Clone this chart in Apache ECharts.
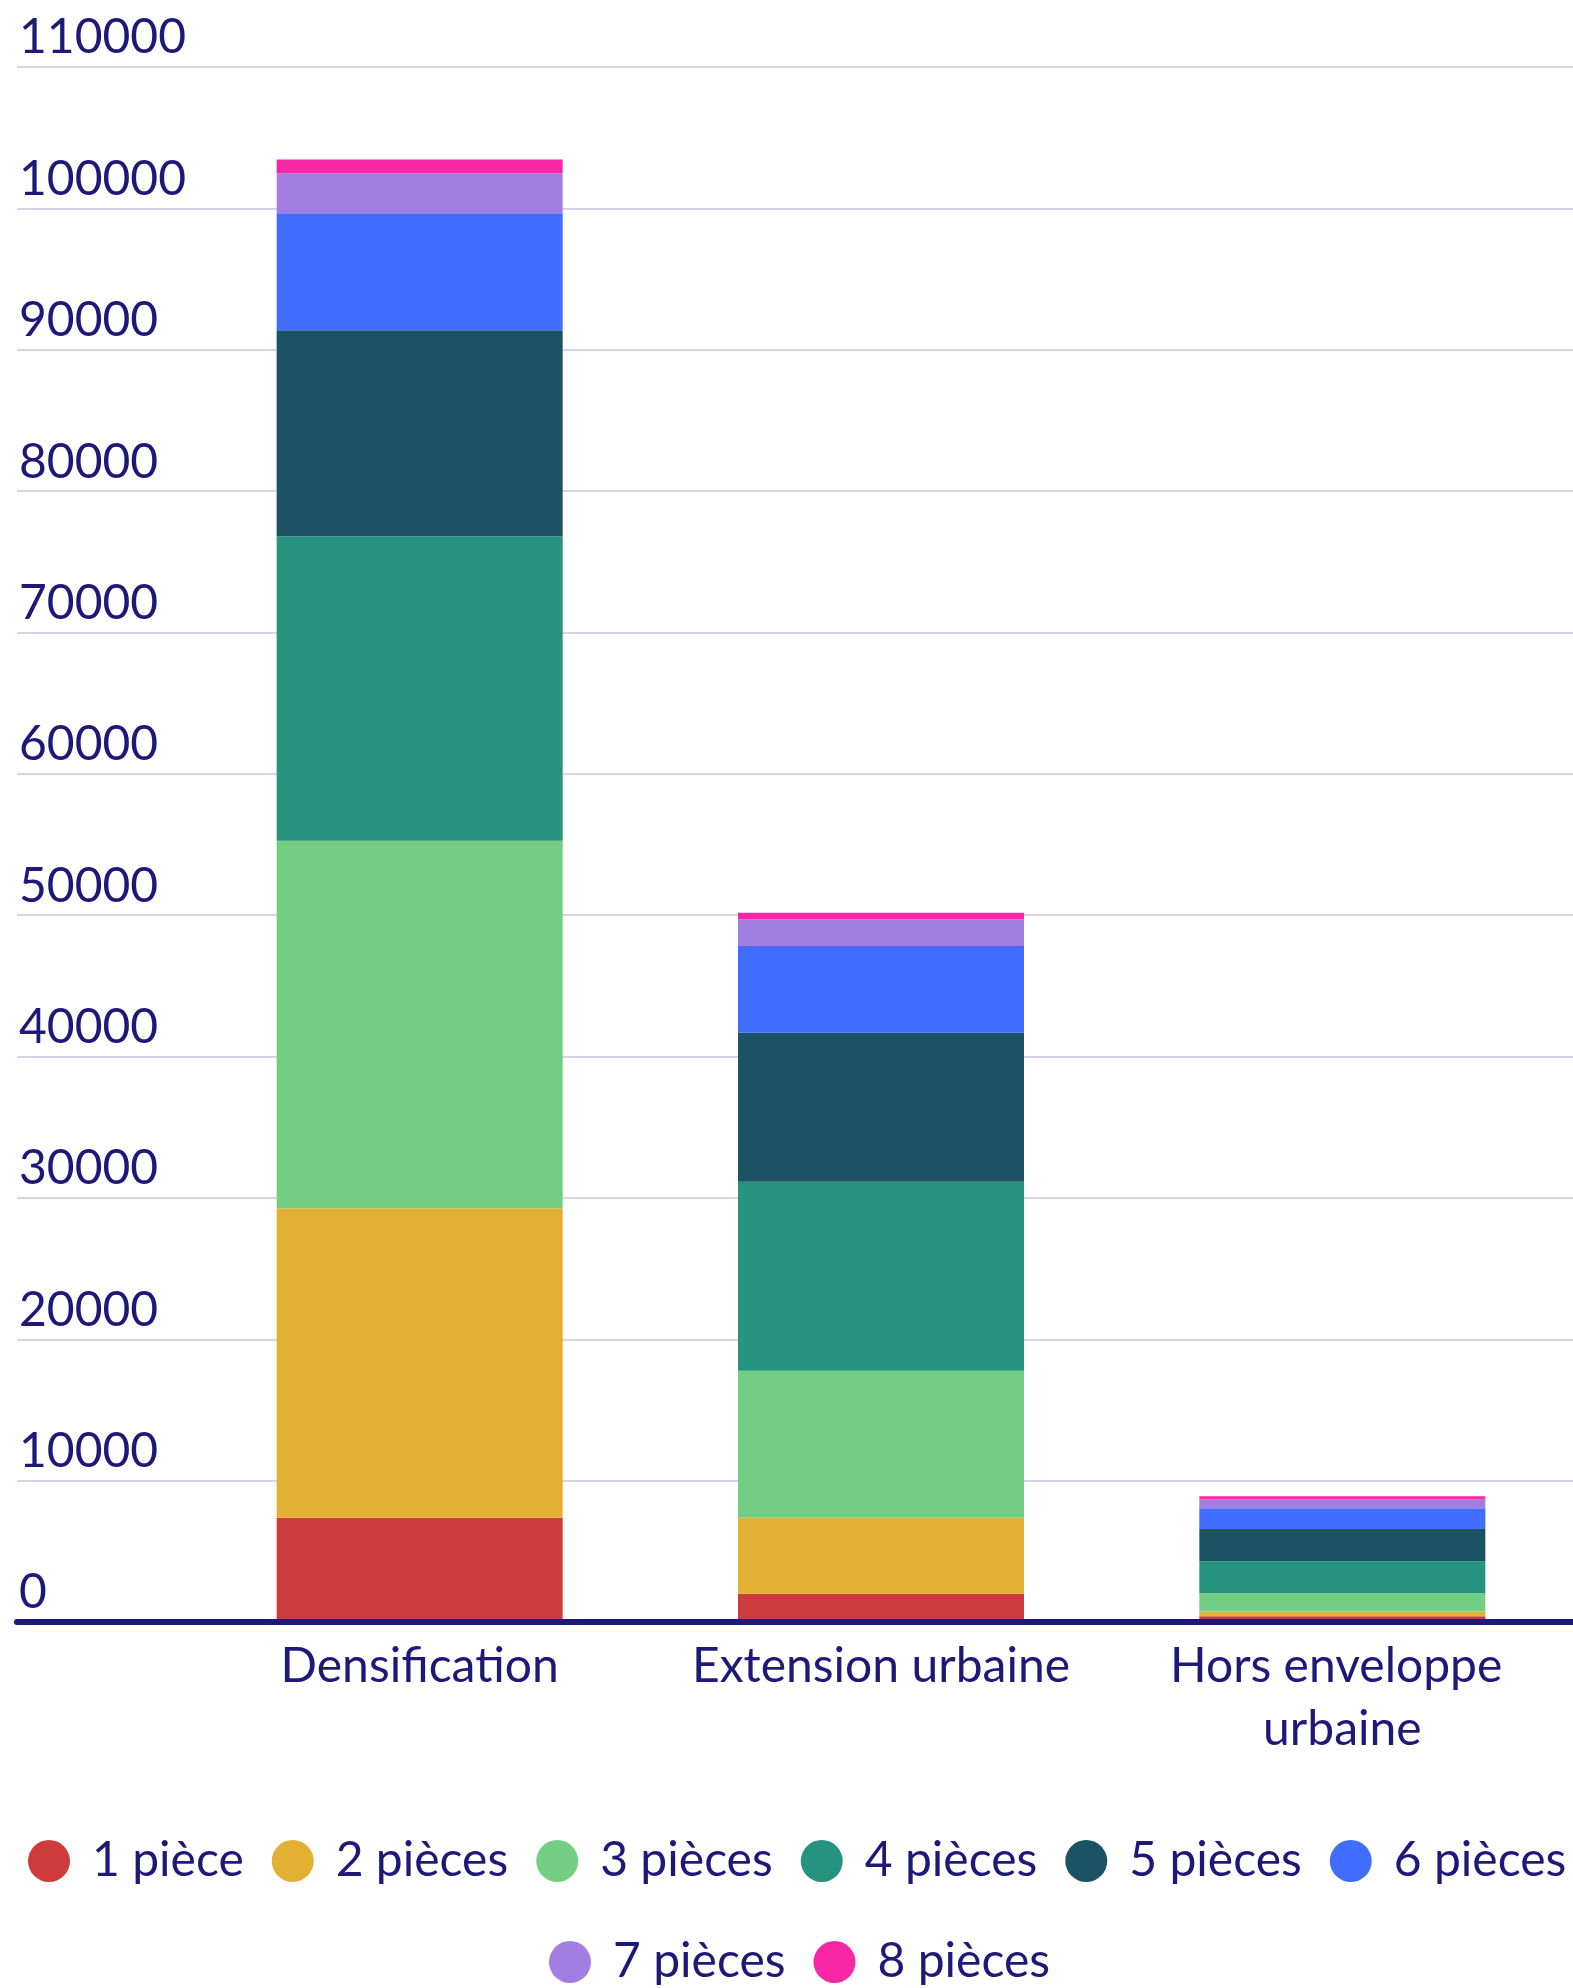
<!DOCTYPE html>
<html>
<head>
<meta charset="utf-8">
<script src="https://cdn.jsdelivr.net/npm/echarts@6/dist/echarts.min.js"></script>
<style>
  html, body { margin: 0; padding: 0; background: #ffffff; }
  #chart { width: 1573px; height: 1988px; }
</style>
</head>
<body>
<div id="chart"></div>
<script>
// Logements par type de localisation et nombre de pièces
const categories = ['Densification', 'Extension urbaine', 'Hors enveloppe urbaine'];
const seriesNames = ['1 pièce', '2 pièces', '3 pièces', '4 pièces', '5 pièces', '6 pièces', '7 pièces', '8 pièces'];
const colors = ['#ce3b3c', '#e2b033', '#72ce82', '#26937f', '#1b5264', '#416dff', '#a27de2', '#f727a5'];

const piece1 = [7370, 1995, 410];
const piece2 = [21895, 5385, 330];
const piece3 = [26005, 10400, 1300];
const piece4 = [21520, 13370, 2260];
const piece5 = [14590, 10540, 2270];
const piece6 = [8280, 6130, 1480];
const piece7 = [2830, 1885, 620];
const piece8 = [970, 475, 230];
const values = [piece1, piece2, piece3, piece4, piece5, piece6, piece7, piece8];

const yTickMax = 110000;
const yTickStep = 10000;

const ink = '#1e1878';
const font = 'Lato';

const legendText = { color: ink, fontFamily: font, fontSize: 48, lineHeight: 72, padding: [0, 0, 0, 17] };

const chart = echarts.init(document.getElementById('chart'), null, { renderer: 'canvas' });

chart.setOption({
  animation: false,
  backgroundColor: '#ffffff',
  textStyle: { fontFamily: font, color: ink },
  grid: [
    // full-width frame: grid lines, value labels and baseline
    { left: 17, right: 0, top: 67, bottom: 366 },
    // bars area
    { left: 189, right: 0, top: 67, bottom: 366 }
  ],
  xAxis: [
    {
      gridIndex: 0, type: 'category', data: categories, z: 5,
      axisLine: { show: true, lineStyle: { color: ink, width: 6 } },
      axisTick: { show: false }, axisLabel: { show: false }
    },
    {
      gridIndex: 1, type: 'category', data: categories,
      axisLine: { show: false }, axisTick: { show: false },
      axisLabel: {
        interval: 0, color: ink, fontFamily: font, fontSize: 48, margin: 13,
        lineHeight: 63, width: 420, overflow: 'break'
      }
    }
  ],
  yAxis: [
    {
      gridIndex: 0, type: 'value', min: 0, max: yTickMax, interval: yTickStep,
      axisLine: { show: false }, axisTick: { show: false },
      splitLine: { show: true, lineStyle: { color: '#d6d4e8', width: 2 } },
      axisLabel: {
        inside: true, align: 'left', verticalAlign: 'bottom', margin: 2,
        color: ink, fontFamily: font, fontSize: 48, padding: [0, 0, 5, 0],
        formatter: (v) => String(v)
      }
    },
    {
      gridIndex: 1, type: 'value', min: 0, max: yTickMax, interval: yTickStep,
      show: false, splitLine: { show: false }
    }
  ],
  legend: [
    {
      data: seriesNames.slice(0, 6), left: 28, top: 1825, width: 1700,
      icon: 'circle', itemWidth: 42, itemHeight: 42, itemGap: 28, padding: 0,
      textStyle: legendText
    },
    {
      data: seriesNames.slice(6), left: 549, top: 1926, width: 1000,
      icon: 'circle', itemWidth: 42, itemHeight: 42, itemGap: 28, padding: 0,
      textStyle: legendText
    }
  ],
  series: seriesNames.map((name, i) => ({
    name: name,
    type: 'bar',
    stack: 'total',
    xAxisIndex: 1,
    yAxisIndex: 1,
    barWidth: 286,
    itemStyle: { color: colors[i] },
    emphasis: { disabled: true },
    data: values[i]
  }))
});
</script>
</body>
</html>
